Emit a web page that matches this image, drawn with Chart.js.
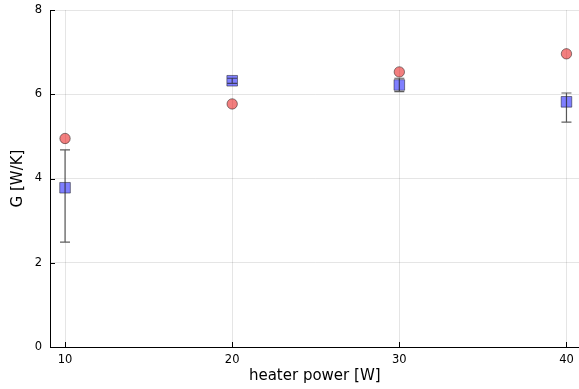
<!DOCTYPE html>
<html>
<head>
<meta charset="utf-8">
<script src="https://cdn.jsdelivr.net/npm/chart.js@4.4.1/dist/chart.umd.min.js"></script>
<style>
  html, body { margin: 0; padding: 0; background: #fff; overflow: hidden; }
  #wrap { width: 579px; height: 389px; overflow: hidden; }
</style>
</head>
<body>
<div id="wrap"><canvas id="myChart" width="588" height="389"></canvas></div>
<script>
// heater power settings
const power = [10, 20, 30, 40];
// model estimate of G
const modelG = [4.95, 5.77, 6.53, 6.96];
// measured G with error range
const measuredG = [3.78, 6.32, 6.22, 5.82];
const measuredLow = [2.49, 6.26, 6.06, 5.34];
const measuredHigh = [4.68, 6.38, 6.38, 6.03];
const xTicks = [10, 20, 30, 40];
const yTicks = [0, 2, 4, 6, 8];

const font = "'DejaVu Sans', sans-serif";

// vertical error bars with caps, drawn from the scales
const errorBars = {
    id: 'errorBars',
    afterDatasetsDraw(chart) {
        const ctx = chart.ctx;
        const xs = chart.scales.x, ys = chart.scales.y;
        ctx.save();
        ctx.strokeStyle = 'rgba(40,40,40,0.75)';
        ctx.lineWidth = 1.2;
        power.forEach(function (p, i) {
            const x = xs.getPixelForValue(p);
            const y1 = ys.getPixelForValue(measuredLow[i]);
            const y2 = ys.getPixelForValue(measuredHigh[i]);
            ctx.beginPath();
            ctx.moveTo(x, y1); ctx.lineTo(x, y2);
            ctx.moveTo(x - 5, y1); ctx.lineTo(x + 5, y1);
            ctx.moveTo(x - 5, y2); ctx.lineTo(x + 5, y2);
            ctx.stroke();
        });
        ctx.restore();
    }
};

// small inward tick marks on both axes
const innerTicks = {
    id: 'innerTicks',
    afterDraw(chart) {
        const ctx = chart.ctx;
        const xs = chart.scales.x, ys = chart.scales.y;
        ctx.save();
        ctx.strokeStyle = '#000';
        ctx.lineWidth = 1;
        xTicks.forEach(function (t) {
            const x = Math.round(xs.getPixelForValue(t)) + 0.5;
            ctx.beginPath();
            ctx.moveTo(x, ys.bottom); ctx.lineTo(x, ys.bottom - 5);
            ctx.stroke();
        });
        yTicks.forEach(function (t) {
            const y = Math.round(ys.getPixelForValue(t)) + 0.5;
            ctx.beginPath();
            ctx.moveTo(xs.left, y); ctx.lineTo(xs.left + 5, y);
            ctx.stroke();
        });
        ctx.restore();
    }
};

const ctx = document.getElementById('myChart').getContext('2d');
new Chart(ctx, {
    type: 'scatter',
    data: {
        datasets: [{
            label: 'model',
            data: power.map((p, i) => ({ x: p, y: modelG[i] })),
            pointStyle: 'circle',
            pointRadius: 5.2,
            backgroundColor: 'rgba(230,0,0,0.5)',
            borderColor: 'rgba(0,0,0,0.45)',
            borderWidth: 1
        }, {
            label: 'measured',
            data: power.map((p, i) => ({ x: p, y: measuredG[i] })),
            pointStyle: 'rect',
            pointRadius: 7.5,
            backgroundColor: 'rgba(0,0,255,0.5)',
            borderColor: 'rgba(0,0,0,0.45)',
            borderWidth: 1
        }]
    },
    options: {
        responsive: false,
        animation: false,
        layout: { padding: { top: 10, right: 0, left: 0, bottom: 0 } },
        plugins: { legend: { display: false }, tooltip: { enabled: false } },
        scales: {
            x: {
                type: 'linear',
                min: 9.1,
                max: 40.78,
                afterBuildTicks: function (axis) { axis.ticks = xTicks.map(v => ({ value: v })); },
                afterFit: function (axis) {
                    axis.height = 42;
                    axis.paddingLeft = 0;
                    axis.paddingRight = 0;
                },
                grid: { color: 'rgba(0,0,0,0.1)', drawTicks: false },
                border: { color: '#000', width: 1 },
                ticks: { padding: 6, color: '#000', font: { family: font, size: 11.5 } },
                title: { display: true, text: 'heater power [W]', color: '#000', padding: { top: 0, bottom: 4 }, font: { family: font, size: 15 } }
            },
            y: {
                min: 0,
                max: 8,
                afterBuildTicks: function (axis) { axis.ticks = yTicks.map(v => ({ value: v })); },
                afterFit: function (axis) {
                    axis.width = 50;
                    axis.paddingTop = 0;
                    axis.paddingBottom = 0;
                },
                grid: { color: 'rgba(0,0,0,0.1)', drawTicks: false },
                border: { color: '#000', width: 1 },
                ticks: { padding: 8, color: '#000', font: { family: font, size: 11.5 } },
                title: { display: true, text: 'G [W/K]', color: '#000', padding: { top: 9, bottom: 0 }, font: { family: font, size: 15 } }
            }
        }
    },
    plugins: [errorBars, innerTicks]
});
</script>
</body>
</html>
